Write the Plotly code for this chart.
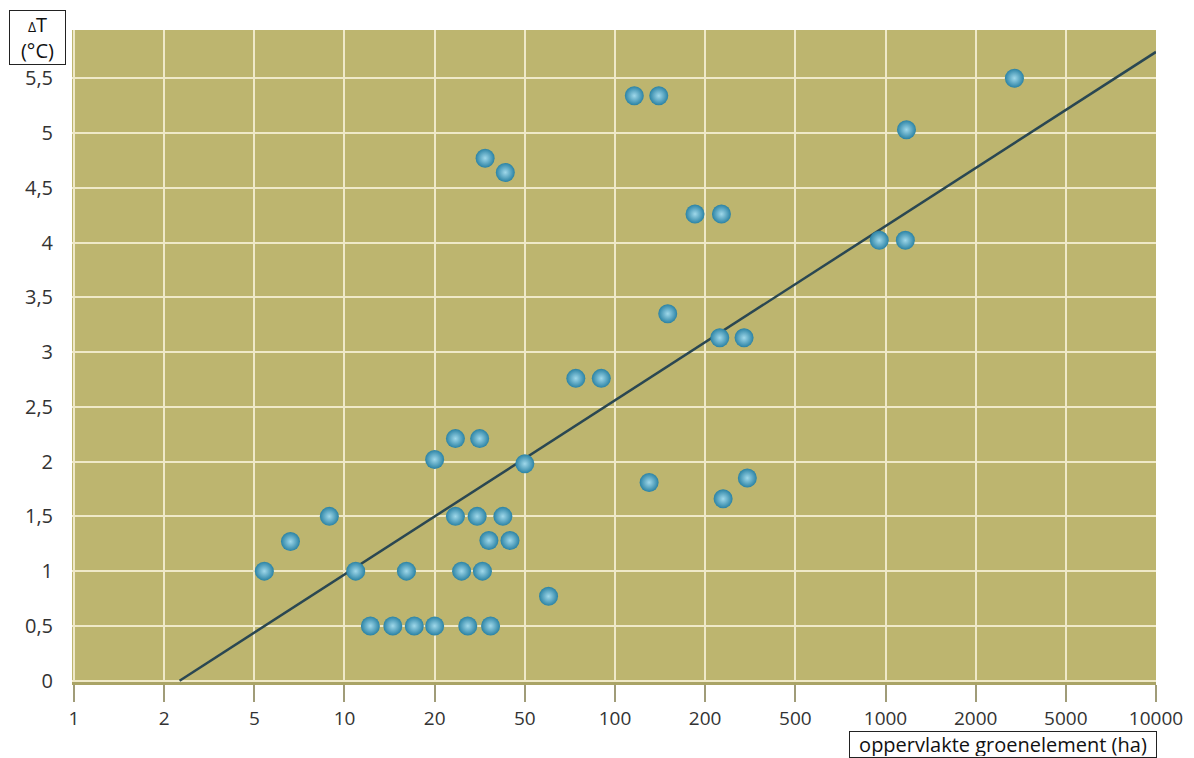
import numpy as np
import plotly.graph_objects as go

# ---- axis ticks (x axis uses an ordinal 1-2-5 scale, evenly spaced) ----
x_tick_values = [1, 2, 5, 10, 20, 50, 100, 200, 500, 1000, 2000, 5000, 10000]
x_tick_labels = ["1", "2", "5", "10", "20", "50", "100", "200", "500",
                 "1000", "2000", "5000", "10000"]
y_tick_values = [0, 0.5, 1, 1.5, 2, 2.5, 3, 3.5, 4, 4.5, 5, 5.5]
y_tick_labels = ["0", "0,5", "1", "1,5", "2", "2,5", "3", "3,5", "4", "4,5", "5", "5,5"]

# ---- observations: area of green element (ha) and cooling delta T (°C) ----
area_ha = [5.4, 6.6, 8.9, 10.9, 12.2, 14.5, 16.1, 17.1, 20, 20,
           24.7, 31.6, 24.7, 30.8, 40, 34.7, 43, 26.3, 32.5, 28,
           35.3, 33.4, 41, 50, 60, 74, 90, 116, 140, 150,
           232, 297, 130, 307, 240, 185, 236, 953, 1165, 1175, 2966]
delta_t = [1.0, 1.27, 1.5, 1.0, 0.5, 0.5, 1.0, 0.5, 0.5, 2.02,
           2.21, 2.21, 1.5, 1.5, 1.5, 1.28, 1.28, 1.0, 1.0, 0.5,
           0.5, 4.77, 4.64, 1.98, 0.77, 2.76, 2.76, 5.34, 5.34, 3.35,
           3.13, 3.13, 1.81, 1.85, 1.66, 4.26, 4.26, 4.02, 4.02, 5.03, 5.5]

# ---- trend line end points ----
trend_ha = [2.34, 10000]
trend_dt = [0.0, 5.74]


def to_scale(values):
    """Map hectares onto the evenly spaced 1-2-5 tick scale of the chart."""
    return np.interp(np.log10(values), np.log10(x_tick_values),
                     np.arange(len(x_tick_values)))


fig = go.Figure()

fig.add_trace(go.Scatter(
    x=to_scale(trend_ha), y=trend_dt, mode="lines",
    line=dict(color="#2a4752", width=2.5),
    hoverinfo="skip", showlegend=False,
))

fig.add_trace(go.Scatter(
    x=to_scale(area_ha), y=delta_t, mode="markers",
    marker=dict(size=19, color="#2a82a4",
                gradient=dict(type="radial", color="#9fd8ea"),
                line=dict(width=0)),
    showlegend=False,
))

grid_col = "#efe9c8"
label_font = "Open Sans, Noto Sans, sans-serif"

# page body adds an 8px margin; the figure is sized so that the plot area
# lands at the same place as in the reference picture
fig.update_layout(
    width=1186, height=750,
    margin=dict(l=64, r=38, t=22, b=76, autoexpand=False),
    paper_bgcolor="white",
    plot_bgcolor="#bdb56f",
    font=dict(family=label_font, size=19, color="#333333"),
    xaxis=dict(
        range=[-0.022, 12.0],
        tickmode="array",
        tickvals=list(range(len(x_tick_values))),
        ticktext=x_tick_labels,
        showgrid=True, gridcolor=grid_col, gridwidth=2,
        zeroline=False,
        showline=True, linecolor="#aaa466", linewidth=3,
        ticks="outside", ticklen=17, tickwidth=2, tickcolor="#a09c78",
        tickfont=dict(size=19, color="#333333"),
    ),
    yaxis=dict(
        range=[-0.012, 5.94],
        tickmode="array",
        tickvals=y_tick_values,
        ticktext=y_tick_labels,
        showgrid=True, gridcolor=grid_col, gridwidth=2,
        zeroline=False, showline=False,
        ticks="", ticklabelstandoff=18,
        tickfont=dict(size=20, color="#333333"),
    ),
    annotations=[
        dict(text="<span style='font-size:14px'>Δ</span>T<br>(°C)",
             xref="paper", yref="paper",
             x=(37.5 - 72) / 1084, y=(682 - 37) / 652,
             xanchor="center", yanchor="middle", showarrow=False,
             font=dict(size=20, color="#111111", family=label_font),
             bgcolor="white", bordercolor="#222222", borderwidth=1,
             width=53, height=51, borderpad=1, align="center"),
        dict(text="oppervlakte groenelement (ha)",
             xref="paper", yref="paper",
             x=(1003 - 72) / 1084, y=(682 - 744) / 652,
             xanchor="center", yanchor="middle", showarrow=False,
             font=dict(size=20, color="#111111", family=label_font),
             bgcolor="white", bordercolor="#222222", borderwidth=1,
             width=304, height=23, borderpad=1),
    ],
)

fig.write_html("out.html")
